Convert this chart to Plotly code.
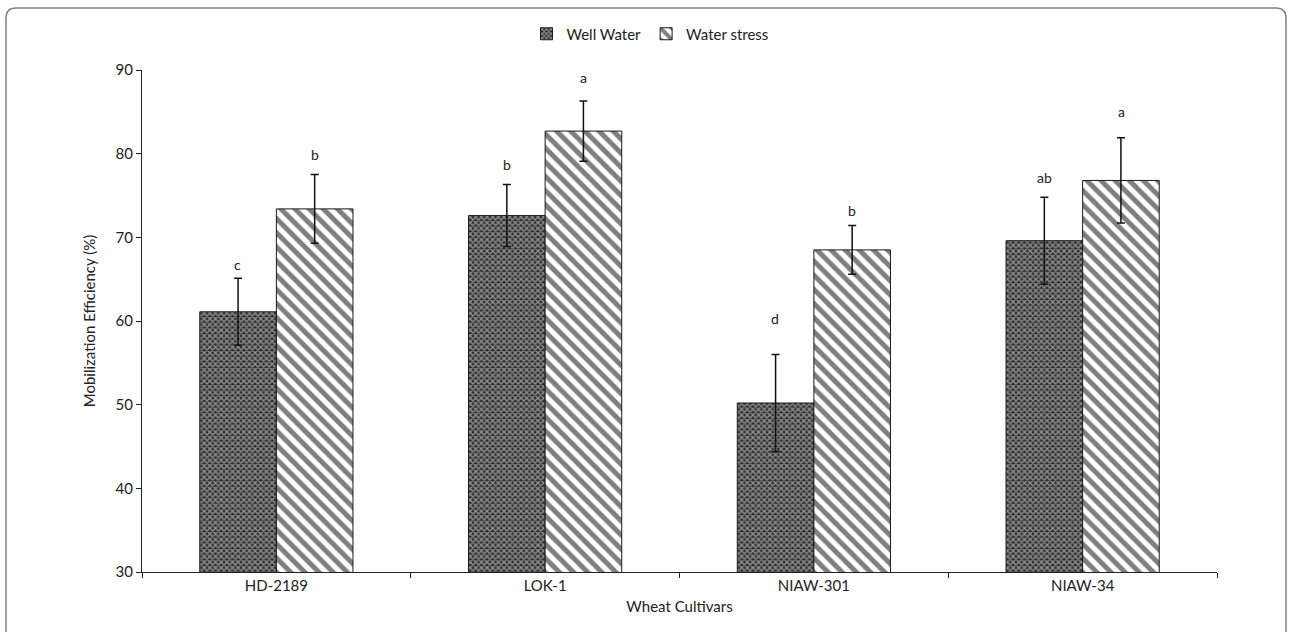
import plotly.graph_objects as go

# ---------------- data ----------------
cultivars = ["HD-2189", "LOK-1", "NIAW-301", "NIAW-34"]
well_water = [61.1, 72.6, 50.2, 69.6]
well_water_err = [4.0, 3.7, 5.8, 5.2]
water_stress = [73.4, 82.7, 68.5, 76.8]
water_stress_err = [4.1, 3.6, 2.9, 5.1]
well_letters = ["c", "b", "d", "ab"]
stress_letters = ["b", "a", "b", "a"]
y_ticks = [30, 40, 50, 60, 70, 80, 90]

# ---------------- layout geometry (pixels) ----------------
W, H = 1292, 632
L, R, T, B = 142, 1217, 70, 572
FONT = "Lato, 'Open Sans', sans-serif"
FS = 15

def px_x(px):
    return (px - L) / (R - L)

def px_y(py):
    return (B - py) / (B - T)

fig = go.Figure()
fig.add_trace(go.Bar(
    name="Well Water", x=cultivars, y=well_water,
    marker=dict(color="#303030", line=dict(color="#1a1a1a", width=1),
                pattern=dict(shape="x", fgcolor="#f4f4f4", bgcolor="#303030",
                             size=4, solidity=0.55, fillmode="overlay")),
    error_y=dict(type="data", array=well_water_err, color="#111", thickness=1.5, width=4),
))
fig.add_trace(go.Bar(
    name="Water stress", x=cultivars, y=water_stress,
    marker=dict(color="white", line=dict(color="#1a1a1a", width=1),
                pattern=dict(shape="\\", fgcolor="black", bgcolor="white",
                             size=10, solidity=0.5, fillmode="overlay")),
    error_y=dict(type="data", array=water_stress_err, color="#111", thickness=1.5, width=4),
))

# significance letters
half_bar_px = 38.5
well_shift = [14, 20, 36, 20]
stress_shift = [20, 23, 15, 26]
annotations = []
for i, c in enumerate(cultivars):
    annotations.append(dict(x=c, y=well_water[i] + well_water_err[i], xref="x", yref="y",
                            text=well_letters[i], showarrow=False, xshift=-half_bar_px,
                            yshift=well_shift[i], font=dict(family=FONT, size=FS - 1, color="#222")))
    annotations.append(dict(x=c, y=water_stress[i] + water_stress_err[i], xref="x", yref="y",
                            text=stress_letters[i], showarrow=False, xshift=half_bar_px,
                            yshift=stress_shift[i], font=dict(family=FONT, size=FS - 1, color="#222")))

# rounded outer border
x0, x1, y0, y1, r = 6, 1286, 8, 660, 10
path = (f"M {px_x(x0)} {px_y(y1)} L {px_x(x0)} {px_y(y0 + r)} "
        f"Q {px_x(x0)} {px_y(y0)} {px_x(x0 + r)} {px_y(y0)} "
        f"L {px_x(x1 - r)} {px_y(y0)} "
        f"Q {px_x(x1)} {px_y(y0)} {px_x(x1)} {px_y(y0 + r)} "
        f"L {px_x(x1)} {px_y(y1)}")

fig.update_layout(
    width=W, height=H,
    margin=dict(l=L, r=W - R, t=T, b=H - B),
    paper_bgcolor="white", plot_bgcolor="white",
    barmode="group", bargap=0.43, bargroupgap=0,
    font=dict(family=FONT, size=FS, color="#222"),
    showlegend=True,
    legend=dict(orientation="h", x=px_x(650), xanchor="center", y=px_y(34), yanchor="middle",
                font=dict(family=FONT, size=FS, color="#222"), itemwidth=30,
                traceorder="normal"),
    annotations=annotations,
    shapes=[dict(type="path", path=path, xref="paper", yref="paper",
                 line=dict(color="#808080", width=1.5), layer="below")],
    xaxis=dict(showline=True, linecolor="#222", linewidth=1, ticks="outside",
               tickson="boundaries", ticklen=5, tickcolor="#222",
               title=dict(text="Wheat Cultivars", standoff=8,
                          font=dict(family=FONT, size=FS, color="#222")),
               tickfont=dict(family=FONT, size=FS, color="#222")),
    yaxis=dict(range=[30, 90], tickvals=y_ticks, showline=True, linecolor="#222", linewidth=1,
               ticks="outside", ticklen=5, tickcolor="#222", showgrid=False, zeroline=False,
               title=dict(text="Mobilization Efficiency (%)", standoff=16,
                          font=dict(family=FONT, size=FS, color="#222")),
               tickfont=dict(family=FONT, size=FS, color="#222")),
)

fig.write_html("out.html", config={"displayModeBar": False},
               post_script="document.body.style.margin='0';")
